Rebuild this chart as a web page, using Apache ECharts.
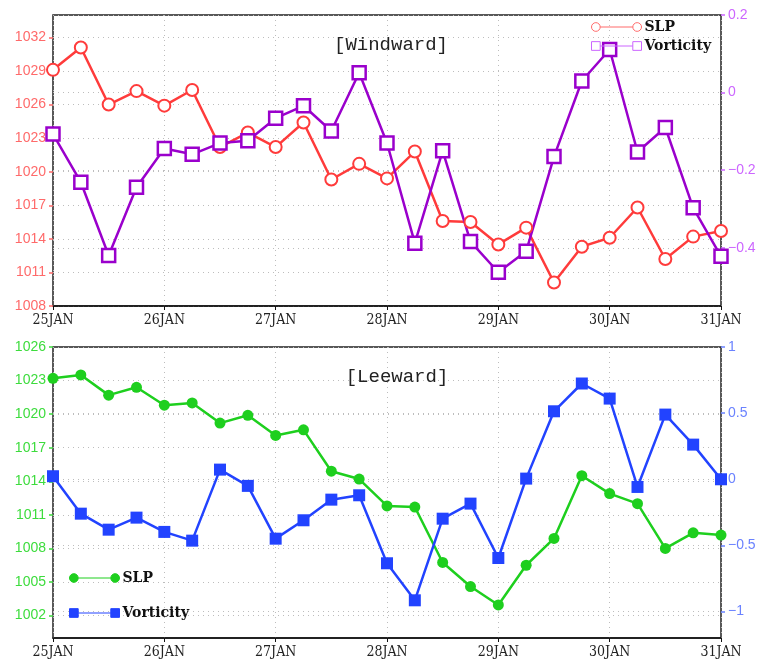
<!DOCTYPE html>
<html lang="en">
<head>
  <meta charset="UTF-8">
  <title>Windward / Leeward SLP and Vorticity</title>
  <style>
    html, body { margin: 0; padding: 0; background: #fff; }
    #chart { width: 761px; height: 660px; }
  </style>
</head>
<body>
  <div id="chart"></div>
  <script src="https://cdn.jsdelivr.net/npm/echarts@6/dist/echarts.min.js"></script>
  <script>
    // 6-hourly steps, 25JAN 00 .. 31JAN 00
    const days = ['25JAN', '26JAN', '27JAN', '28JAN', '29JAN', '30JAN', '31JAN']

    // windward panel
    const windSlp = [
      1029.1, 1031.1, 1026.0, 1027.2, 1025.9, 1027.3, 1022.2, 1023.5, 1022.2, 1024.4,
      1019.3, 1020.7, 1019.4, 1021.8, 1015.6, 1015.5, 1013.5, 1015.0, 1010.1, 1013.3,
      1014.1, 1016.8, 1012.2, 1014.2, 1014.7
    ]
    const windVort = [
      -0.107, -0.231, -0.420, -0.244, -0.144, -0.159, -0.130, -0.124, -0.066, -0.034,
      -0.099, 0.051, -0.130, -0.388, -0.150, -0.384, -0.463, -0.409, -0.165, 0.030,
      0.111, -0.153, -0.090, -0.297, -0.422
    ]

    // leeward panel
    const leeSlp = [
      1023.2, 1023.5, 1021.7, 1022.4, 1020.8, 1021.0, 1019.2, 1019.9, 1018.1, 1018.6,
      1014.9, 1014.2, 1011.8, 1011.7, 1006.75, 1004.6, 1002.95, 1006.5, 1008.9, 1014.5,
      1012.9, 1012.0, 1008.0, 1009.4, 1009.2
    ]
    const leeVort = [
      0.023, -0.260, -0.381, -0.290, -0.398, -0.464, 0.073, -0.050, -0.449, -0.310,
      -0.154, -0.121, -0.635, -0.915, -0.298, -0.184, -0.595, 0.005, 0.514, 0.724,
      0.610, -0.058, 0.489, 0.262, 0.000
    ]

    // tick labels
    const windSlpTicks = [1008, 1011, 1014, 1017, 1020, 1023, 1026, 1029, 1032]
    const windVortTicks = [-0.4, -0.2, 0, 0.2]
    const leeSlpTicks = [1002, 1005, 1008, 1011, 1014, 1017, 1020, 1023, 1026]
    const leeVortTicks = [-1, -0.5, 0, 0.5, 1]

    const RED = '#ff3b3b', RED_LABEL = '#ff6a6a'
    const PURPLE = '#9a00cc', PURPLE_LABEL = '#cc66ff'
    const GREEN = '#1ecf1e', GREEN_LABEL = '#3ddc3d'
    const BLUE = '#2243ff', BLUE_LABEL = '#6a82ff'

    const pairs = list => list.map((v, i) => [i, v])
    const minus = v => String(v).replace('-', '\u2212')

    const chart = echarts.init(document.getElementById('chart'))

    const dotted = { show: true, lineStyle: { color: '#bdbdbd', type: [1, 4], width: 1 } }

    function xAxis (gridIndex) {
      return {
        type: 'value', gridIndex, min: 0, max: 24, interval: 4,
        axisLine: { show: true, onZero: false, lineStyle: { color: '#111', width: 1.5 } },
        axisTick: { show: true, length: 4, lineStyle: { color: '#111' } },
        axisLabel: {
          formatter: v => days[v / 4] || '',
          color: '#222', fontSize: 14, margin: 7,
          fontFamily: "'DejaVu Serif Condensed', 'DejaVu Serif', serif"
        },
        splitLine: dotted
      }
    }

    function yAxis (gridIndex, position, min, max, ticks, color, fmt) {
      return {
        type: 'value', gridIndex, position, min, max,
        axisLine: { show: false },
        axisTick: { show: true, length: 4, customValues: ticks, lineStyle: { color, width: 1.5 } },
        axisLabel: {
          customValues: ticks, color, fontSize: 14, margin: 7,
          fontFamily: "'Liberation Sans', sans-serif",
          formatter: fmt || (v => String(v))
        },
        splitLine: dotted
      }
    }

    const gridBase = { show: true, borderColor: '#222', borderWidth: 1.5, backgroundColor: 'transparent' }

    const circleIcon = 'path://M1,5A4,4,0,1,0,9,5A4,4,0,1,0,1,5ZM9,5L39,5M39,5A4,4,0,1,0,47,5A4,4,0,1,0,39,5Z'
    const squareIcon = 'path://M1,1H9V9H1ZM9,5L39,5M39,1H47V9H39Z'

    chart.setOption({
      animation: false,
      title: [
        {
          text: '[Windward]', left: 386, top: 30, textAlign: 'center',
          textStyle: { fontFamily: "'Liberation Mono', monospace", fontWeight: 'normal', fontSize: 19, color: '#222' }
        },
        {
          text: '[Leeward]', left: 392, top: 362, textAlign: 'center',
          textStyle: { fontFamily: "'Liberation Mono', monospace", fontWeight: 'normal', fontSize: 19, color: '#222' }
        }
      ],
      legend: [
        {
          orient: 'vertical', left: 586, top: 15, itemGap: 5,
          itemWidth: 50, itemHeight: 11,
          textStyle: { fontFamily: "'DejaVu Serif', serif", fontWeight: 'bold', fontSize: 14, color: '#111', padding: [0, 0, 0, -2] },
          data: [
            { name: 'SLP', icon: circleIcon, itemStyle: { color: '#fff', borderColor: RED_LABEL, borderWidth: 1 } },
            { name: 'Vorticity', icon: squareIcon, itemStyle: { color: '#fff', borderColor: PURPLE_LABEL, borderWidth: 1 } }
          ]
        },
        {
          orient: 'vertical', left: 64, top: 566, itemGap: 21,
          itemWidth: 50, itemHeight: 11,
          formatter: name => name.replace('Leeward ', ''),
          textStyle: { fontFamily: "'DejaVu Serif', serif", fontWeight: 'bold', fontSize: 14, color: '#111', padding: [0, 0, 0, -2] },
          data: [
            { name: 'Leeward SLP', icon: circleIcon, itemStyle: { color: GREEN, borderColor: GREEN, borderWidth: 1 } },
            { name: 'Leeward Vorticity', icon: squareIcon, itemStyle: { color: BLUE, borderColor: BLUE, borderWidth: 1 } }
          ]
        }
      ],
      grid: [
        Object.assign({ left: 53, right: 40, top: 15, height: 291 }, gridBase),
        Object.assign({ left: 53, right: 40, top: 347, height: 291 }, gridBase)
      ],
      xAxis: [xAxis(0), xAxis(1)],
      yAxis: [
        yAxis(0, 'left', 1008, 1034, windSlpTicks, RED_LABEL),
        yAxis(0, 'right', -0.55, 0.2, windVortTicks, PURPLE_LABEL, minus),
        yAxis(1, 'left', 1000, 1026, leeSlpTicks, GREEN_LABEL),
        yAxis(1, 'right', -1.2, 1, leeVortTicks, BLUE_LABEL, minus)
      ],
      series: [
        {
          name: 'SLP', type: 'line', xAxisIndex: 0, yAxisIndex: 0,
          data: pairs(windSlp),
          symbol: 'circle', symbolSize: 12,
          lineStyle: { color: RED, width: 2.5 },
          itemStyle: { color: '#fff', borderColor: RED, borderWidth: 2 }
        },
        {
          name: 'Vorticity', type: 'line', xAxisIndex: 0, yAxisIndex: 1,
          data: pairs(windVort),
          symbol: 'rect', symbolSize: 13,
          lineStyle: { color: PURPLE, width: 2.5 },
          itemStyle: { color: '#fff', borderColor: PURPLE, borderWidth: 2.5 }
        },
        {
          name: 'Leeward SLP', type: 'line', xAxisIndex: 1, yAxisIndex: 2,
          data: pairs(leeSlp),
          symbol: 'circle', symbolSize: 11,
          lineStyle: { color: GREEN, width: 2.5 },
          itemStyle: { color: GREEN, borderWidth: 0 }
        },
        {
          name: 'Leeward Vorticity', type: 'line', xAxisIndex: 1, yAxisIndex: 3,
          data: pairs(leeVort),
          symbol: 'rect', symbolSize: 12,
          lineStyle: { color: BLUE, width: 2.5 },
          itemStyle: { color: BLUE, borderWidth: 0 }
        }
      ]
    })
  </script>
</body>
</html>
